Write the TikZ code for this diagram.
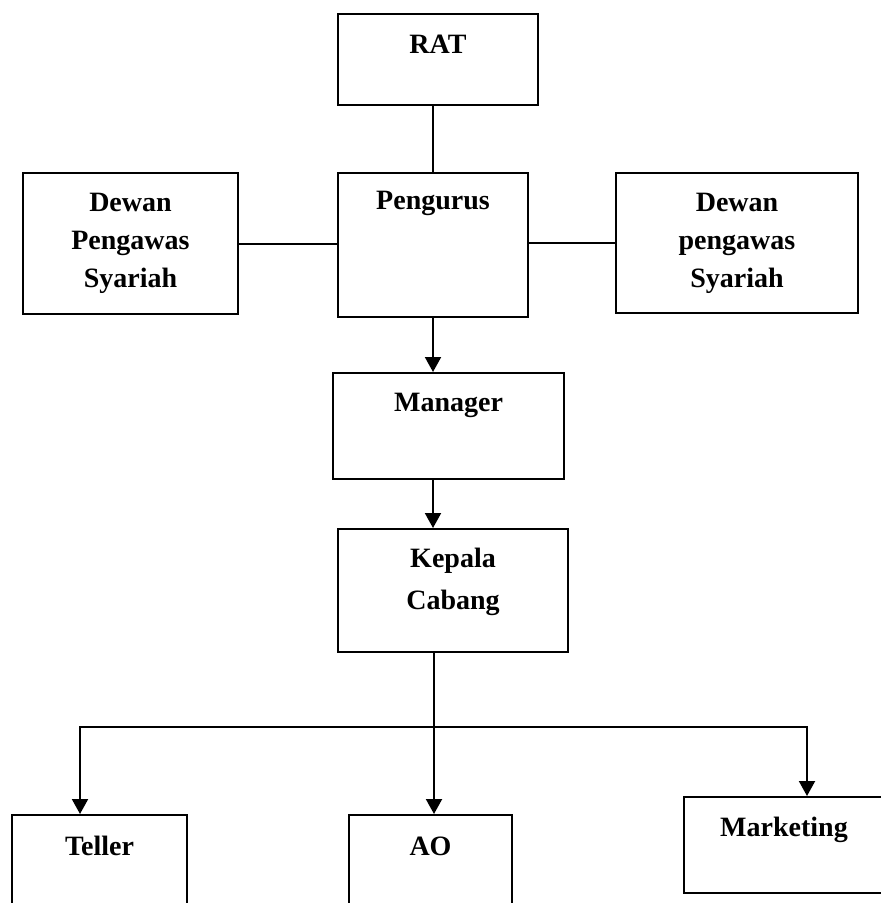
\documentclass[tikz,border=0pt]{standalone}
\usepackage{fontspec}
\setmainfont{Liberation Serif}
\usetikzlibrary{arrows.meta}

\begin{document}
\begin{tikzpicture}[x = 1pt, y = -1pt,
	>={Triangle[width = 16pt, length = 15pt]},
	kotak/.style = {draw, line width = 2pt, inner sep = 0pt, align = center,
		font = \bfseries\fontsize{28}{38}\selectfont},
	garis/.style = {line width = 2pt}]
	%	page (pixel grid, y down)
	\useasboundingbox (0, 0) rectangle (881, 903);
	\clip (0, 0) rectangle (881, 903);
	
	%	boxes
	\node[kotak, minimum width = 200pt, text height = 39pt, text depth = 52pt] (rat) at (438, 59.5) {RAT};
	\node[kotak, minimum width = 190pt, text height = 36pt, text depth = 108pt] (pengurus) at (433, 245) {Pengurus};
	\node[kotak, minimum width = 215pt, minimum height = 141pt] (dpskiri) at (130.5, 243.5) {Dewan\\Pengawas\\Syariah};
	\node[kotak, minimum width = 242pt, minimum height = 140pt] (dpskanan) at (737, 243) {Dewan\\pengawas\\Syariah};
	\node[kotak, minimum width = 231pt, text height = 38pt, text depth = 68pt] (manager) at (448.5, 426) {Manager};
	\node[kotak, minimum width = 230pt, text height = 38pt, text depth = 85pt] (kacab) at (453, 590.5)
		{\begin{tabular}[t]{@{}c@{}}Kepala\\[4pt]Cabang\end{tabular}};
	\node[kotak, minimum width = 175pt, text height = 40pt, text depth = 75pt] (teller) at (99.5, 872.5) {Teller};
	\node[kotak, minimum width = 163pt, text height = 40pt, text depth = 75pt] (ao) at (430.5, 872.5) {AO};
	\node[kotak, minimum width = 200pt, text height = 39pt, text depth = 57pt] (marketing) at (784, 845) {Marketing};
	
	%	branch points
	\coordinate (kiri) at (80, 727);
	\coordinate (tengah) at (434, 727);
	\coordinate (kanan) at (807, 727);
	
	%	lines
	\draw[garis] (pengurus.north) -- (rat.south -| pengurus.north);
	\draw[garis] (dpskiri.east) -- (dpskiri.east -| pengurus.west);
	\draw[garis] (dpskanan.west) -- (dpskanan.west -| pengurus.east);
	\draw[garis, ->] (pengurus.south) -- (pengurus.south |- manager.north);
	\draw[garis, ->] (pengurus.south |- manager.south) -- (pengurus.south |- kacab.north);
	\draw[garis, ->] (tengah |- kacab.south) -- (tengah |- ao.north);
	\draw[garis, <->] (kiri |- teller.north) -- (kiri) -- (kanan) -- (kanan |- marketing.north);
\end{tikzpicture}
\end{document}
